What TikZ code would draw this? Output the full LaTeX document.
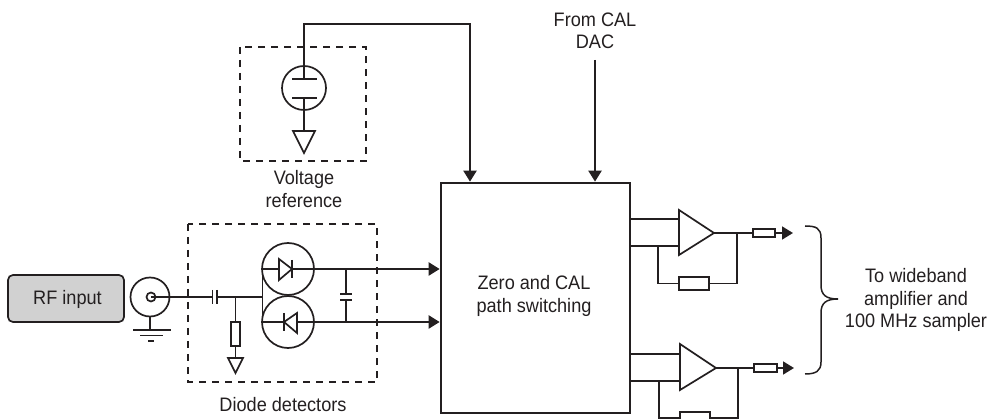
\documentclass[tikz,border=0pt]{standalone}
\usepackage{fontspec}
\setmainfont[FakeStretch=0.93]{Liberation Sans}
\usetikzlibrary{arrows.meta}
\definecolor{ink}{HTML}{231F20}
\tikzset{
  wire/.style={draw=ink,line width=1.7pt},
  thick wire/.style={draw=ink,line width=2.2pt},
  sig/.style={thick wire,-{Triangle[length=11pt,width=13pt]}},
  dashbox/.style={draw=ink,line width=1.3pt,dash pattern=on 7pt off 6pt},
  part/.style={draw=ink,line width=1.7pt,fill=white,inner sep=0pt},
  lbl/.style={text=ink,font=\fontsize{19.5}{22.5}\selectfont,align=center,inner sep=0pt},
  mainbox/.style={draw=ink,line width=2.7pt,fill=white,inner sep=0pt,minimum width=189pt,minimum height=230pt},
  rfbox/.style={draw=ink,line width=1.7pt,fill=black!18,rounded corners=5pt,inner sep=0pt,minimum width=116pt,minimum height=47pt},
}
\begin{document}
\begin{tikzpicture}[x=1pt,y=-1pt]
\useasboundingbox (0,0) rectangle (990,419);
\clip (0,0) rectangle (990,419);
% dashed boxes
\draw[dashbox] (188,224) rectangle (377,382);
\draw[dashbox] (240,47) rectangle (366,161);
% main block
\node[mainbox] (main) at (535.5,298) {};
\node[lbl] (mainlbl) at (534,296) {Zero and CAL\\path switching};
% RF input and connector
\node[rfbox] (rf) at (66,298.5) {};
\node[lbl] (rflbl) at (67.5,299) {RF input};
\coordinate (bnc) at (150,297);
\draw[wire] (bnc) circle (19.5);
\draw[wire] (151,297) circle (4.5);
\coordinate (capL) at (212.5,297);
\coordinate (capR) at (217,297);
\coordinate (dj) at (235.5,297);
\coordinate (dbus) at (262.5,297);
\draw[wire] (151,297) -- (capL);
\draw[wire] (212.5,290) -- (212.5,304);
\draw[wire] (217,290) -- (217,304);
\draw[wire] (capR) -- (dbus);
% ground
\draw[wire] (150,316.5) -- (150,330);
\draw[wire] (133,330) -- (171,330);
\draw[wire] (140,335.5) -- (163,335.5);
\draw[wire] (148,341) -- (154,341);
% shunt resistor
\node[part,minimum width=9pt,minimum height=24pt] (rs) at (235.5,334) {};
\draw[wire] (dj) -- (rs.north);
\coordinate (gs) at (235.5,358);
\draw[wire] (rs.south) -- (gs);
\draw[wire,line join=miter] (228,358) -- (243,358) -- (235.5,373) -- cycle;
% diodes
\coordinate (d1) at (288,269);
\coordinate (d2) at (288,322);
\draw[wire] (d1) circle (26);
\draw[wire] (d2) circle (26);
\draw[wire] (262.5,269) -- (262.5,322);
\coordinate (t1) at (439,269);
\coordinate (t2) at (439,322);
\draw[sig] (262.5,269) -- (main.west |- t1);
\draw[sig] (262.5,322) -- (main.west |- t2);
\draw[part,fill=white,line join=miter] (279,259) -- (292,269) -- (279,280) -- cycle;
\draw[wire] (292,260) -- (292,278);
\draw[part,fill=white,line join=miter] (297,313) -- (284,322) -- (297,333) -- cycle;
\draw[wire] (284,313) -- (284,331);
% right cap
\draw[wire] (346,269) -- (346,294);
\draw[wire] (346,300) -- (346,322);
\draw[wire] (340,294) -- (352,294);
\draw[wire] (340,300) -- (352,300);
% voltage reference
\coordinate (vr) at (304,88);
\draw[wire] (vr) circle (22);
\draw[wire] (292,79) -- (317,79);
\draw[wire] (292,98) -- (317,98);
\draw[wire] (304,98) -- (304,131);
\draw[wire,line join=miter] (293,131) -- (315,131) -- (304,153) -- cycle;
\coordinate (vrt) at (470,24);
\coordinate (vrb) at (304,79);
\draw[sig] (vrb) |- (vrt) -- (vrt |- main.north);
% CAL DAC
\node[lbl] (dac) at (595,31) {From CAL\\DAC};
\coordinate (dacw) at (595,60);
\draw[sig] (dacw) -- (dacw |- main.north);
% amp 1
\draw[wire] (630,219) -- (679,219);
\draw[wire] (630,246) -- (679,246);
\draw[wire,fill=white,line join=miter] (679,210) -- (714,233) -- (679,255) -- cycle;
\node[part,minimum width=30pt,minimum height=13pt] (fb1) at (694,283.5) {};
\draw[wire] (658,246) |- (fb1.west);
\draw[wire] (fb1.east) -| (737,233);
\node[part,minimum width=22pt,minimum height=8pt] (or1) at (764,233) {};
\draw[wire] (714,233) -- (or1.west);
\coordinate (a1) at (793,233);
\draw[wire,-{Triangle[length=11pt,width=13pt]}] (or1.east) -- (a1);
% amp 2
\draw[wire] (630,354) -- (680,354);
\draw[wire] (630,381) -- (680,381);
\draw[wire,fill=white,line join=miter] (680,344) -- (716,368) -- (680,390) -- cycle;
\draw[wire,line join=miter] (659,381) -- (659,418) -- (680,418) -- (680,412) -- (710,412) -- (710,418) -- (738,418) -- (738,368);
\node[part,minimum width=23pt,minimum height=8pt] (or2) at (765.5,368) {};
\draw[wire] (716,368) -- (or2.west);
\coordinate (a2) at (794,368);
\draw[wire,-{Triangle[length=11pt,width=13pt]}] (or2.east) -- (a2);
% brace
\draw[draw=ink,line width=1.5pt] (805,226) .. controls (816,226) and (821,228) .. (821,238) -- (821,285)
  .. controls (821,295) and (826,299) .. (838,299)
  .. controls (826,299) and (821,303) .. (821,313) -- (821,362)
  .. controls (821,371) and (816,374) .. (805,374);
% labels
\node[lbl] (vlbl) at (304,189) {Voltage\\reference};
\node[lbl] (dlbl) at (283,405) {Diode detectors};
\node[lbl] (out) at (916,300) {To wideband\\amplifier and\\100 MHz sampler};
\end{tikzpicture}
\end{document}
